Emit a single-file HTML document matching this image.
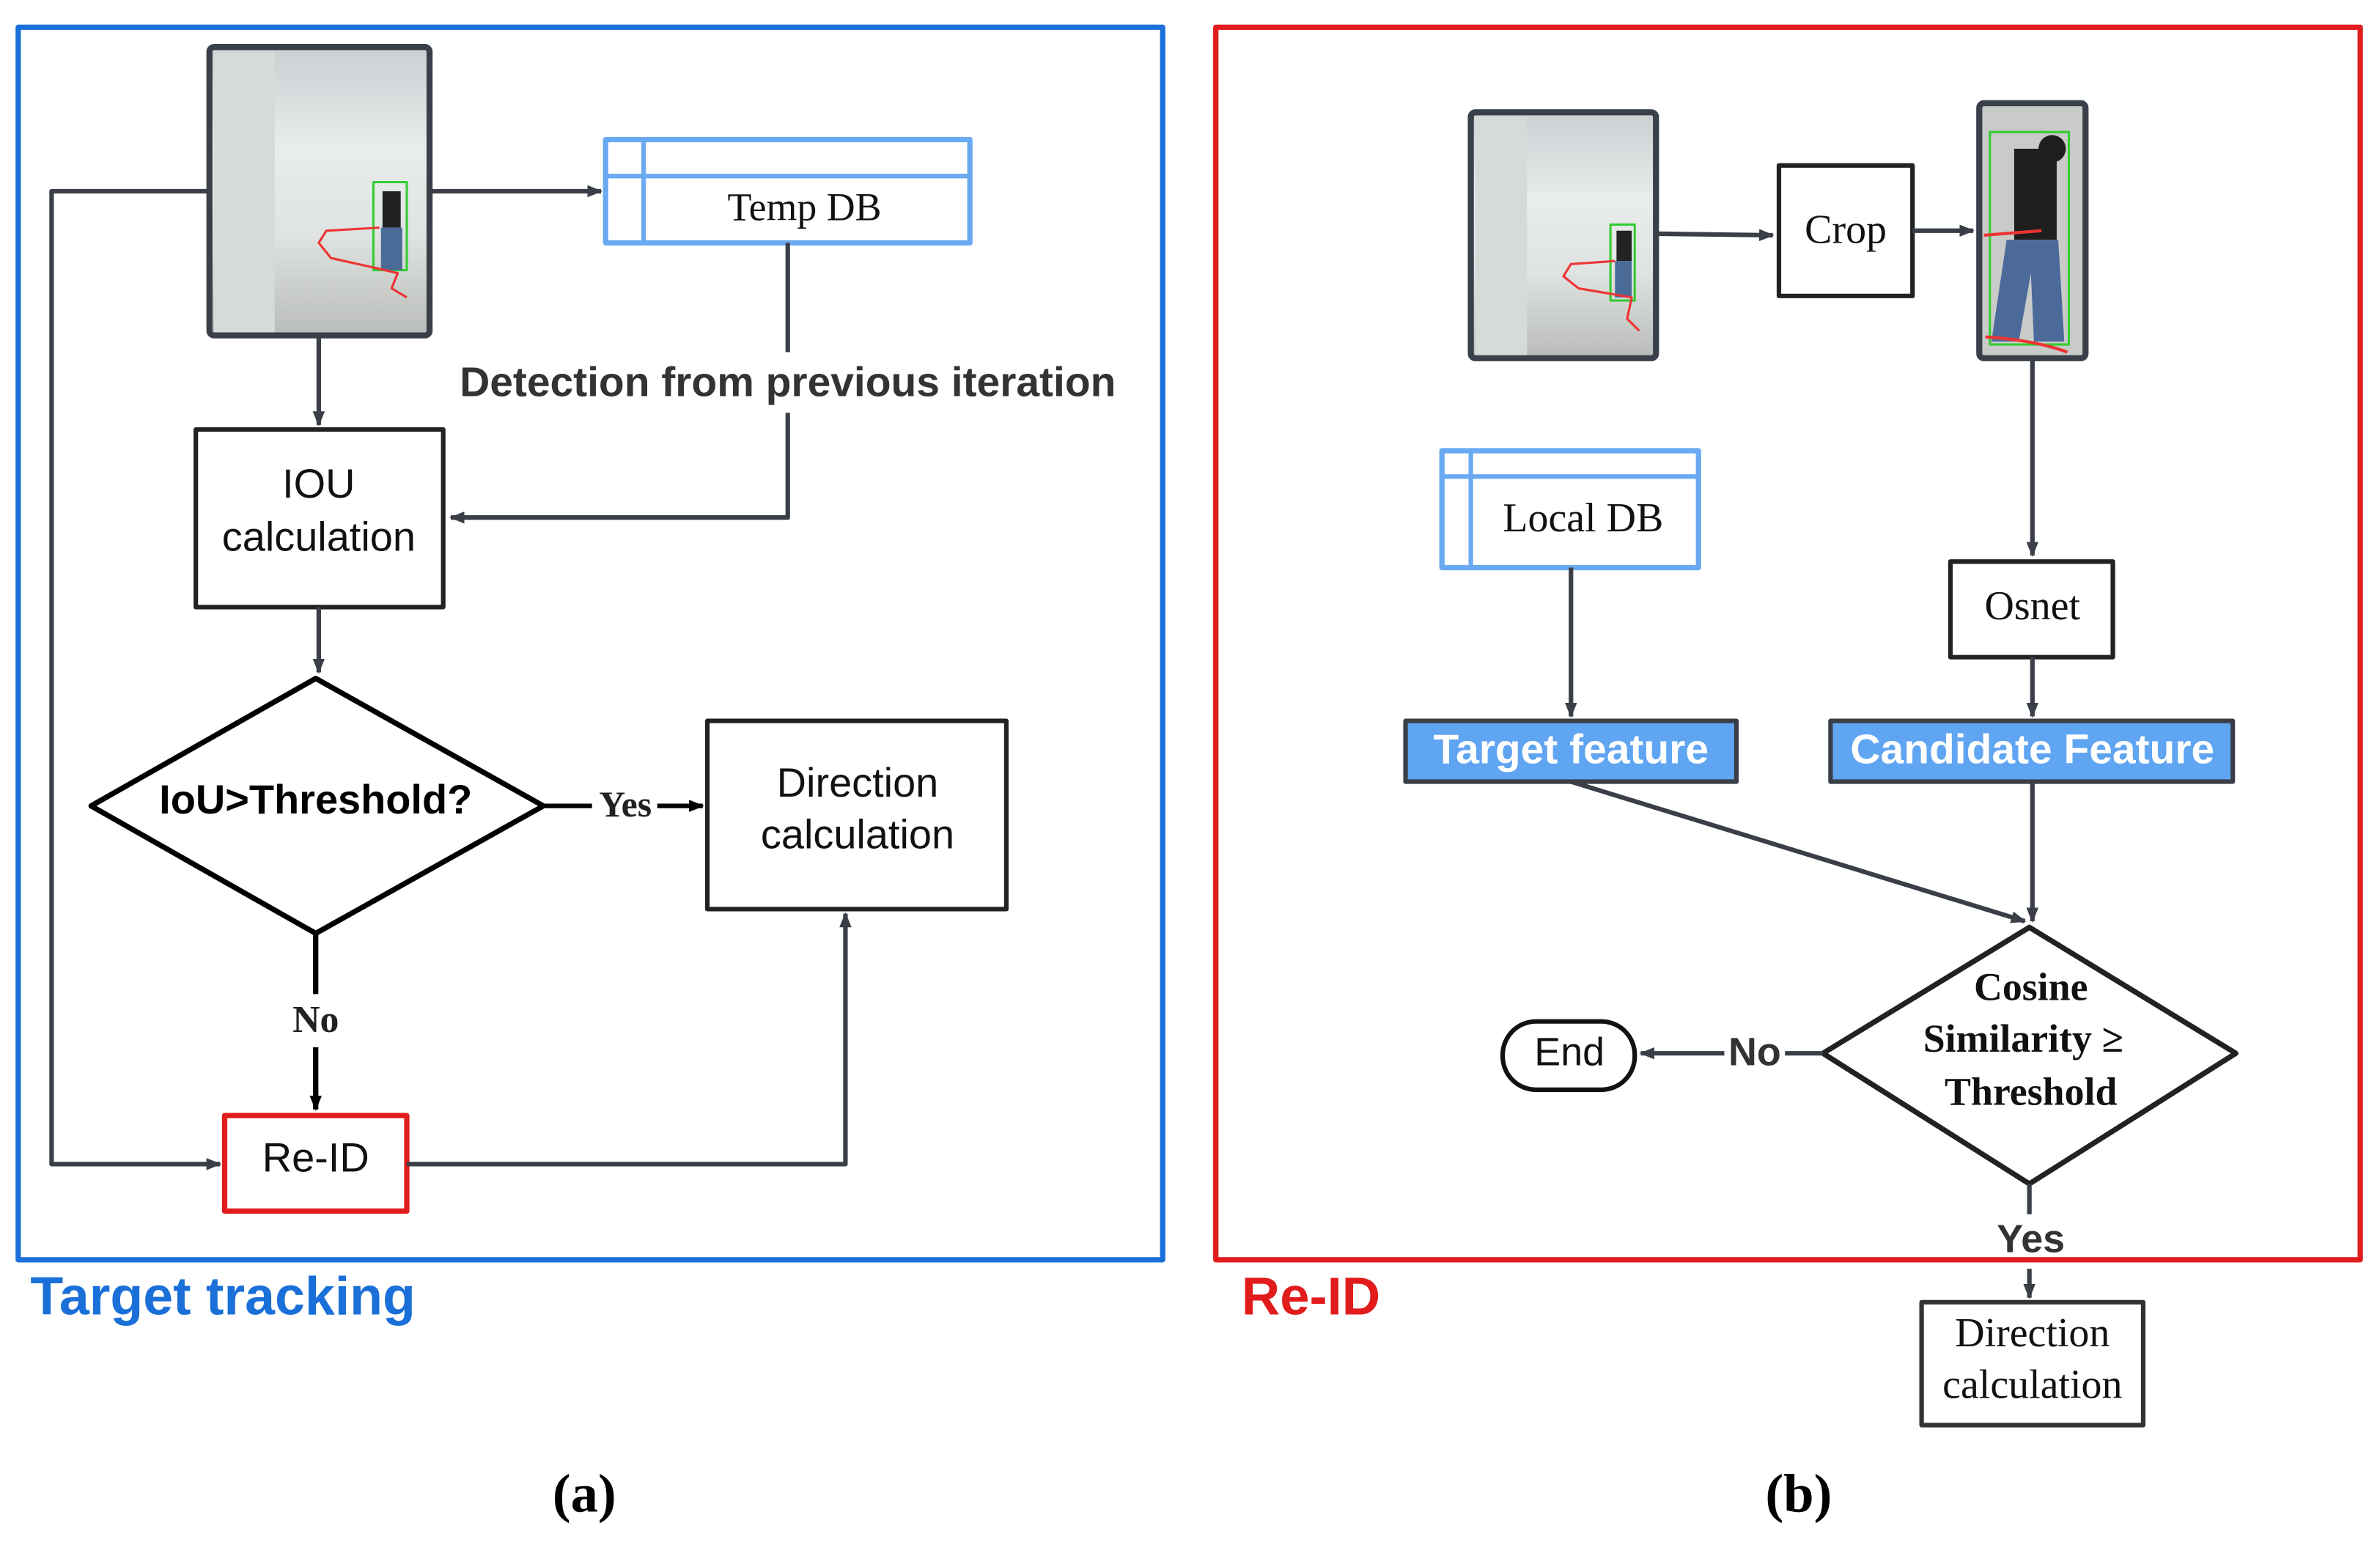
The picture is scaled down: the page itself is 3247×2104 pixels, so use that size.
<!DOCTYPE html>
<html><head><meta charset="utf-8"><style>html,body{margin:0;padding:0;background:#fff}svg{display:block}</style></head>
<body>
<svg width="3247" height="2104" viewBox="0 0 1568 1016" preserveAspectRatio="none" xmlns="http://www.w3.org/2000/svg">
<defs>
<marker id="a" markerWidth="10" markerHeight="10" refX="9" refY="5" orient="auto" markerUnits="userSpaceOnUse"><path d="M0,1 L10,5 L0,9 z" fill="#3a3f47"/></marker>
<marker id="k" markerWidth="10" markerHeight="10" refX="9" refY="5" orient="auto" markerUnits="userSpaceOnUse"><path d="M0,1 L10,5 L0,9 z" fill="#000"/></marker>
<linearGradient id="wall" x1="0" y1="0" x2="0" y2="1"><stop offset="0" stop-color="#c9d0d2"/><stop offset="0.35" stop-color="#e8eceb"/><stop offset="0.65" stop-color="#dfe3e1"/><stop offset="1" stop-color="#b9bcb8"/></linearGradient>
</defs>
<g font-family="Liberation Sans, sans-serif" fill="none" stroke-linejoin="round">
<rect x="12" y="18" width="754" height="812" stroke="#1a70d8" stroke-width="3.5"/>
<rect x="801" y="18" width="754" height="812" stroke="#e01c1c" stroke-width="3.5"/>

<rect x="138" y="31" width="145" height="190" rx="3" fill="url(#wall)" stroke="#3a4049" stroke-width="4"/>
<rect x="141" y="34" width="40" height="185" fill="#d6dad9"/>
<rect x="246" y="120" width="22" height="58" stroke="#3c3" stroke-width="1.5"/>
<rect x="252" y="126" width="12" height="24" fill="#222"/>
<rect x="251" y="150" width="14" height="28" fill="#4a6a98"/>
<path d="M250,150 L215,152 L210,160 L218,170 L245,176 L262,180 L258,190 L268,196" stroke="#e33" stroke-width="1.5"/>

<line x1="283" y1="126" x2="396" y2="126" stroke="#3a3f47" stroke-width="3" marker-end="url(#a)"/>
<rect x="399" y="92" width="240" height="68" stroke="#6aaaf2" stroke-width="3.5"/>
<line x1="424" y1="92" x2="424" y2="160" stroke="#6aaaf2" stroke-width="3"/>
<line x1="399" y1="116" x2="639" y2="116" stroke="#6aaaf2" stroke-width="3"/>
<text x="530" y="145" font-family="Liberation Serif, serif" font-size="26" fill="#111" text-anchor="middle">Temp DB</text>
<path d="M519,160 V232 M519,272 V341 H297" stroke="#3a3f47" stroke-width="3" marker-end="url(#a)"/>
<text x="519" y="261" font-size="27.5" font-weight="bold" fill="#333" text-anchor="middle">Detection from previous iteration</text>
<path d="M137,126 H34 V767 H145" stroke="#3a3f47" stroke-width="3" marker-end="url(#a)"/>
<line x1="210" y1="221" x2="210" y2="280" stroke="#3a3f47" stroke-width="3" marker-end="url(#a)"/>
<rect x="129" y="283" width="163" height="117" stroke="#222" stroke-width="3"/>
<text x="210" y="328" font-size="27" fill="#111" text-anchor="middle">IOU</text>
<text x="210" y="363" font-size="27" fill="#111" text-anchor="middle">calculation</text>
<line x1="210" y1="400" x2="210" y2="443" stroke="#3a3f47" stroke-width="3" marker-end="url(#a)"/>
<path d="M60,531 L208,447 L358,531 L208,615 Z" stroke="#000" stroke-width="3.5"/>
<text x="208" y="536" font-size="27" font-weight="bold" fill="#000" text-anchor="middle">IoU&gt;Threshold?</text>
<path d="M358,531 H390 M433,531 H463" stroke="#000" stroke-width="3" marker-end="url(#k)"/>
<text x="412" y="538" font-family="Liberation Serif, serif" font-size="24" font-weight="bold" fill="#222" text-anchor="middle">Yes</text>
<rect x="466" y="475" width="197" height="124" stroke="#222" stroke-width="3"/>
<text x="565" y="525" font-size="27" fill="#111" text-anchor="middle">Direction</text>
<text x="565" y="559" font-size="27" fill="#111" text-anchor="middle">calculation</text>
<path d="M208,615 V655 M208,690 V731" stroke="#000" stroke-width="3.5" marker-end="url(#k)"/>
<text x="208" y="680" font-family="Liberation Serif, serif" font-size="25" font-weight="bold" fill="#222" text-anchor="middle">No</text>
<rect x="148" y="735" width="120" height="63" stroke="#e01c1c" stroke-width="3.5"/>
<text x="208" y="772" font-size="27" fill="#111" text-anchor="middle">Re-ID</text>
<path d="M268,767 H557 V602" stroke="#3a3f47" stroke-width="3" marker-end="url(#a)"/>
<text x="20" y="866" font-size="35.5" font-weight="bold" fill="#1a70d8">Target tracking</text>
<text x="385" y="996" font-family="Liberation Serif, serif" font-size="36" font-weight="bold" fill="#000" text-anchor="middle">(a)</text>

<rect x="969" y="74" width="122" height="162" rx="3" fill="url(#wall)" stroke="#3a4049" stroke-width="4"/>
<rect x="972" y="77" width="34" height="157" fill="#d6dad9"/>
<rect x="1061" y="148" width="16" height="50" stroke="#3c3" stroke-width="1.5"/>
<rect x="1065" y="152" width="10" height="20" fill="#222"/>
<rect x="1064" y="172" width="11" height="24" fill="#4a6a98"/>
<path d="M1064,172 L1035,174 L1030,182 L1040,190 L1075,196 L1072,210 L1080,218" stroke="#e33" stroke-width="1.5"/>
<line x1="1091" y1="154" x2="1168" y2="155" stroke="#3a3f47" stroke-width="3" marker-end="url(#a)"/>
<rect x="1172" y="109" width="88" height="86" stroke="#222" stroke-width="3"/>
<text x="1216" y="160" font-family="Liberation Serif, serif" font-size="27" fill="#111" text-anchor="middle">Crop</text>
<line x1="1260" y1="152" x2="1300" y2="152" stroke="#3a3f47" stroke-width="3" marker-end="url(#a)"/>
<rect x="1304" y="68" width="70" height="168" rx="3" fill="#c8cbc8" stroke="#3a4049" stroke-width="4"/>
<rect x="1311" y="87" width="52" height="140" stroke="#3c3" stroke-width="1.5"/>
<rect x="1327" y="98" width="28" height="60" fill="#1e1e1e"/>
<circle cx="1352" cy="98" r="9" fill="#1e1e1e"/>
<path d="M1322,158 H1356 L1360,225 H1340 L1338,180 L1330,225 H1312 Z" fill="#4b6a9a"/>
<path d="M1307,155 L1345,152 M1308,222 Q1340,224 1362,232" stroke="#e33" stroke-width="2"/>
<line x1="1339" y1="236" x2="1339" y2="366" stroke="#3a3f47" stroke-width="3" marker-end="url(#a)"/>
<rect x="1285" y="370" width="107" height="63" stroke="#222" stroke-width="3"/>
<text x="1339" y="408" font-family="Liberation Serif, serif" font-size="27" fill="#111" text-anchor="middle">Osnet</text>
<line x1="1339" y1="433" x2="1339" y2="472" stroke="#3a3f47" stroke-width="3" marker-end="url(#a)"/>
<rect x="1206" y="475" width="265" height="40" fill="#5fa5f2" stroke="#3a3f47" stroke-width="3"/>
<text x="1339" y="503" font-size="27.5" font-weight="bold" fill="#fff" text-anchor="middle">Candidate Feature</text>
<rect x="950" y="297" width="169" height="77" stroke="#6aaaf2" stroke-width="3.5"/>
<line x1="969" y1="297" x2="969" y2="374" stroke="#6aaaf2" stroke-width="3"/>
<line x1="950" y1="314" x2="1119" y2="314" stroke="#6aaaf2" stroke-width="3"/>
<text x="1043" y="350" font-family="Liberation Serif, serif" font-size="27" fill="#111" text-anchor="middle">Local DB</text>
<line x1="1035" y1="374" x2="1035" y2="472" stroke="#3a3f47" stroke-width="3" marker-end="url(#a)"/>
<rect x="926" y="475" width="218" height="40" fill="#5fa5f2" stroke="#3a3f47" stroke-width="3"/>
<text x="1035" y="503" font-size="27.5" font-weight="bold" fill="#fff" text-anchor="middle">Target feature</text>
<line x1="1035" y1="515" x2="1334" y2="607" stroke="#3a3f47" stroke-width="3" marker-end="url(#a)"/>
<line x1="1339" y1="515" x2="1339" y2="607" stroke="#3a3f47" stroke-width="3" marker-end="url(#a)"/>
<path d="M1201,694 L1337,611 L1473,694 L1337,780 Z" stroke="#222" stroke-width="3.5"/>
<g font-family="Liberation Serif, serif" font-size="26" font-weight="bold" fill="#111" text-anchor="middle">
<text x="1338" y="659">Cosine</text><text x="1333" y="693">Similarity  ≥</text><text x="1338" y="728">Threshold</text></g>
<path d="M1201,694 H1176 M1136,694 H1081" stroke="#3a3f47" stroke-width="3" marker-end="url(#a)"/>
<text x="1156" y="702" font-size="26" font-weight="bold" fill="#333" text-anchor="middle">No</text>
<rect x="990" y="673" width="87" height="45" rx="22" stroke="#111" stroke-width="3"/>
<text x="1034" y="702" font-size="26" fill="#111" text-anchor="middle">End</text>
<path d="M1337,780 V800 M1337,836 V855" stroke="#3a3f47" stroke-width="3" marker-end="url(#a)"/>
<text x="1338" y="825" font-size="26" font-weight="bold" fill="#333" text-anchor="middle">Yes</text>
<rect x="1266" y="858" width="146" height="81" stroke="#333" stroke-width="3"/>
<text x="1339" y="887" font-family="Liberation Serif, serif" font-size="27" fill="#111" text-anchor="middle">Direction</text>
<text x="1339" y="921" font-family="Liberation Serif, serif" font-size="27" fill="#111" text-anchor="middle">calculation</text>
<text x="818" y="866" font-size="35" font-weight="bold" fill="#e01c1c">Re-ID</text>
<text x="1185" y="996" font-family="Liberation Serif, serif" font-size="36" font-weight="bold" fill="#000" text-anchor="middle">(b)</text>
</g>
</svg>
</body></html>
